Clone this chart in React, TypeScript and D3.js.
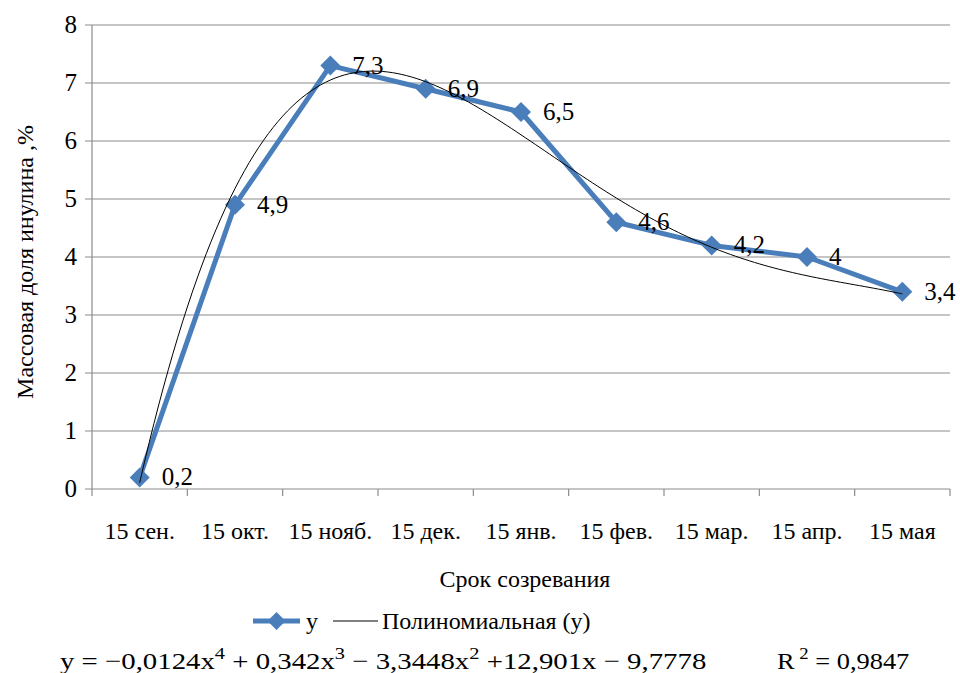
import React from "react";
import * as d3 from "d3";

const categories = ["15 сен.", "15 окт.", "15 нояб.", "15 дек.", "15 янв.", "15 фев.", "15 мар.", "15 апр.", "15 мая"];
const values = [0.2, 4.9, 7.3, 6.9, 6.5, 4.6, 4.2, 4, 3.4];
const valueLabels = ["0,2", "4,9", "7,3", "6,9", "6,5", "4,6", "4,2", "4", "3,4"];
const yTicks = [0, 1, 2, 3, 4, 5, 6, 7, 8];
const trendCoefs = [-9.7778, 12.901, -3.3448, 0.342, -0.0124]; // c0..c4
const seriesName = "y";
const trendName = "Полиномиальная (y)";
const xTitle = "Срок созревания";
const yTitle = "Массовая доля инулина ,%";

const W = 960, H = 673;
const left = 92, right = 950, top = 25, bottom = 489;
const BLUE = "#4a7ebb";
const FONT = "serif";
const CSS = `svg text, svg tspan { font-family: "Liberation Serif", "Tinos", "Times New Roman", serif !important; }`;

export default function App() {
  const x = d3.scaleBand<string>().domain(categories).range([left, right]).padding(0);
  const y = d3.scaleLinear().domain([0, 8]).range([bottom, top]);
  const bw = x.bandwidth();
  const cx = (c: string) => (x(c) as number) + bw / 2;
  const xNum = d3.scaleLinear().domain([1, categories.length]).range([cx(categories[0]), cx(categories[categories.length - 1])]);

  const line = d3.line<number>().x((_, i) => cx(categories[i])).y((v) => y(v));
  const trendPts = d3.range(1, 9.0001, 0.05).map((t) => [t, trendCoefs.reduce((s, c, k) => s + c * Math.pow(t, k), 0)] as [number, number]);
  const trendLine = d3.line<[number, number]>().x((d) => xNum(d[0])).y((d) => y(d[1])).curve(d3.curveBasis);

  const diamond = (px: number, py: number, r: number) => `M${px},${py - r}L${px + r},${py}L${px},${py + r}L${px - r},${py}Z`;
  const ts = { fontFamily: FONT };

  return (
    <svg width={W} height={H} fontFamily={FONT} style={{ position: "absolute", left: 0, top: 0, fontFamily: FONT }}>
      <style>{CSS}</style>
      <rect width={W} height={H} fill="#fff" />
      {yTicks.map((t) => (
        <g key={t}>
          <line x1={left - 7} x2={right} y1={y(t)} y2={y(t)} stroke="#8c8c8c" strokeWidth={1.2} />
          <text fontFamily={FONT} style={ts} x={left - 15} y={y(t) + 8} textAnchor="end" fontSize={25} fill="#000">{t}</text>
        </g>
      ))}
      <line x1={left} x2={left} y1={top} y2={bottom} stroke="#8c8c8c" strokeWidth={1.2} />
      {d3.range(categories.length + 1).map((i) => {
        const px = left + i * bw;
        return <line key={i} x1={px} x2={px} y1={bottom} y2={bottom + 7} stroke="#8c8c8c" strokeWidth={1.2} />;
      })}
      {categories.map((c) => (
        <text key={c} fontFamily={FONT} style={ts} x={cx(c)} y={539} textAnchor="middle" fontSize={24} fill="#000">{c}</text>
      ))}
      <text fontFamily={FONT} style={ts} x={525} y={587} textAnchor="middle" fontSize={24} fill="#000">{xTitle}</text>
      <text fontFamily={FONT} style={ts} transform={`translate(33,${(top + bottom) / 2 + 5}) rotate(-90)`} textAnchor="middle" fontSize={24} fill="#000">{yTitle}</text>

      <path d={line(values) as string} fill="none" stroke={BLUE} strokeWidth={5} strokeLinejoin="round" />
      {values.map((v, i) => (
        <path key={i} d={diamond(cx(categories[i]), y(v), 10)} fill={BLUE} />
      ))}
      <path d={trendLine(trendPts) as string} fill="none" stroke="#000" strokeWidth={1} />
      {values.map((v, i) => (
        <text key={i} fontFamily={FONT} style={ts} x={cx(categories[i]) + 22} y={y(v) + 8} fontSize={25} fill="#000">{valueLabels[i]}</text>
      ))}

      <line x1={253} x2={300} y1={621} y2={621} stroke={BLUE} strokeWidth={5} />
      <path d={diamond(276.5, 621, 9)} fill={BLUE} />
      <text fontFamily={FONT} style={ts} x={306} y={629} fontSize={24} fill="#000">{seriesName}</text>
      <line x1={333} x2={378} y1={621} y2={621} stroke="#000" strokeWidth={1} />
      <text fontFamily={FONT} style={ts} x={382} y={629} fontSize={24} fill="#000">{trendName}</text>

      <g transform="translate(60,669) scale(1.2,1)">
        <text fontFamily={FONT} style={ts} x={0} y={0} fontSize={24} fill="#000">
          y = −0,0124x<tspan dy={-10} fontSize={17}>4</tspan>
          <tspan dy={10}> + 0,342x</tspan><tspan dy={-10} fontSize={17}>3</tspan>
          <tspan dy={10}> − 3,3448x</tspan><tspan dy={-10} fontSize={17}>2</tspan>
          <tspan dy={10}> +12,901x − 9,7778</tspan>
        </text>
      </g>
      <g transform="translate(777,669) scale(1.1,1)">
        <text fontFamily={FONT} style={ts} x={0} y={0} fontSize={24} fill="#000">
          R<tspan dy={-10} fontSize={17}> 2</tspan><tspan dy={10}> = 0,9847</tspan>
        </text>
      </g>
    </svg>
  );
}
